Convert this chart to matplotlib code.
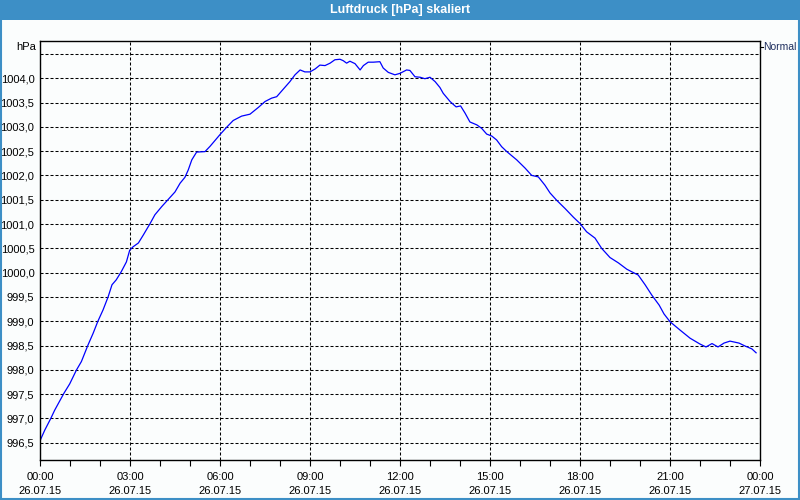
import matplotlib

matplotlib.use("Agg")
import matplotlib.pyplot as plt
from matplotlib.patches import Rectangle

plt.rcParams["font.family"] = ["Liberation Sans", "DejaVu Sans"]

# hours since 26.07.15 00:00 and pressure in hPa
hours = [
    0.0, 0.16, 0.36, 0.49, 0.8, 0.99, 1.21, 1.38, 1.6, 1.77, 1.93, 2.1, 2.27,
    2.4, 2.54, 2.71, 2.88, 2.99, 3.1, 3.28, 3.44, 3.67, 3.83, 4.06, 4.28, 4.5,
    4.67, 4.83, 4.94, 5.06, 5.22, 5.5, 5.67, 6.0, 6.22, 6.44, 6.72, 7.0, 7.28,
    7.5, 7.72, 7.89, 8.06, 8.33, 8.5, 8.67, 8.83, 9.0, 9.17, 9.33, 9.5, 9.67,
    9.83, 10.0, 10.11, 10.22, 10.33, 10.5, 10.67, 10.78, 10.94, 11.11, 11.33,
    11.44, 11.61, 11.83, 12.0, 12.22, 12.33, 12.5, 12.67, 12.83, 13.0, 13.17,
    13.33, 13.44, 13.67, 13.87, 14.02, 14.17, 14.33, 14.56, 14.72, 14.89,
    15.06, 15.22, 15.39, 15.56, 15.89, 16.17, 16.39, 16.61, 16.83, 17.0,
    17.22, 17.5, 17.78, 18.0, 18.22, 18.5, 18.72, 19.0, 19.28, 19.56, 19.78,
    19.94, 20.17, 20.39, 20.64, 20.8, 21.0, 21.33, 21.67, 22.0, 22.2, 22.4,
    22.6, 22.8, 23.0, 23.3, 23.5, 23.73, 23.87,
]
pressure = [
    996.54, 996.76, 997.0, 997.17, 997.52, 997.71, 997.99, 998.17, 998.51,
    998.75, 999.0, 999.23, 999.5, 999.75, 999.85, 1000.02, 1000.22, 1000.46,
    1000.53, 1000.61, 1000.77, 1001.01, 1001.19, 1001.36, 1001.51, 1001.66,
    1001.84, 1001.96, 1002.11, 1002.32, 1002.48, 1002.49, 1002.6, 1002.84,
    1002.99, 1003.13, 1003.22, 1003.26, 1003.4, 1003.52, 1003.59, 1003.62,
    1003.74, 1003.93, 1004.07, 1004.17, 1004.13, 1004.13, 1004.19, 1004.27,
    1004.26, 1004.31, 1004.38, 1004.39, 1004.36, 1004.31, 1004.35, 1004.3,
    1004.17, 1004.26, 1004.33, 1004.33, 1004.34, 1004.21, 1004.12, 1004.07,
    1004.1, 1004.17, 1004.16, 1004.03, 1004.02, 1003.99, 1004.02, 1003.93,
    1003.81, 1003.69, 1003.52, 1003.41, 1003.43, 1003.28, 1003.1, 1003.04,
    1002.97, 1002.85, 1002.81, 1002.73, 1002.59, 1002.49, 1002.32, 1002.15,
    1002.0, 1001.97, 1001.8, 1001.64, 1001.49, 1001.32, 1001.14, 1001.01,
    1000.84, 1000.71, 1000.5, 1000.31, 1000.2, 1000.07, 1000.0, 999.95,
    999.75, 999.54, 999.33, 999.15, 998.99, 998.82, 998.65, 998.53, 998.47,
    998.54, 998.47, 998.55, 998.59, 998.55, 998.49, 998.43, 998.35,
]

x_ticks = [0, 3, 6, 9, 12, 15, 18, 21, 24]
x_labels = [
    "00:00\n26.07.15", "03:00\n26.07.15", "06:00\n26.07.15", "09:00\n26.07.15",
    "12:00\n26.07.15", "15:00\n26.07.15", "18:00\n26.07.15", "21:00\n26.07.15",
    "00:00\n27.07.15",
]
y_ticks = [996.5 + 0.5 * i for i in range(17)]
y_labels = [f"{v:.1f}".replace(".", ",") for v in y_ticks[:-1]] + [""]

title = "Luftdruck [hPa] skaliert"
bar_blue = "#3d8fc6"

fig = plt.figure(figsize=(8, 5), dpi=100)
fig.patch.set_facecolor("#fbfdfd")

# title bar and frame
fig.patches.append(Rectangle((0, 0.96), 1, 0.04, transform=fig.transFigure,
                             facecolor=bar_blue, edgecolor="none", zorder=0))
fig.patches.append(Rectangle((0.001, 0.002), 0.998, 0.996, transform=fig.transFigure,
                             facecolor="none", edgecolor=bar_blue, lw=1.5, zorder=1))
fig.text(0.5, 0.979, title, color="white", fontweight="bold", fontsize=9,
         ha="center", va="center")

ax = fig.add_axes([0.05, 0.08, 0.90, 0.8386])
ax.set_facecolor("#fbfdfd")
ax.plot(hours, pressure, color="#0000ff", lw=0.9)

ax.set_xlim(0, 24)
ax.set_ylim(996.144, 1004.772)
ax.set_xticks(x_ticks)
ax.set_xticklabels(x_labels, fontsize=8, linespacing=1.5)
ax.set_xticks(range(25), minor=True)
ax.set_yticks(y_ticks)
ax.set_yticklabels(y_labels, fontsize=8)

ax.tick_params(axis="x", which="both", direction="out", length=4, width=0.8,
               pad=5, colors="black")
ax.tick_params(axis="y", length=0, pad=4)

dash = (0, (2.9, 1.9))
ax.grid(True, which="major", color="black", lw=0.75, linestyle=dash)
for s in ax.spines.values():
    s.set_linewidth(1.0)
    s.set_color("black")

ax.text(-0.005, 0.985, "hPa", transform=ax.transAxes, ha="right", va="center",
        fontsize=8)
ax.text(1.005, 0.985, "Normal", transform=ax.transAxes, ha="left", va="center",
        fontsize=7.5, color="#1f2f5f")
ax.plot([1.0, 1.004], [0.985, 0.985], transform=ax.transAxes, color="black",
        lw=0.8, clip_on=False)

fig.savefig("out.png", dpi=100, facecolor=fig.get_facecolor())
